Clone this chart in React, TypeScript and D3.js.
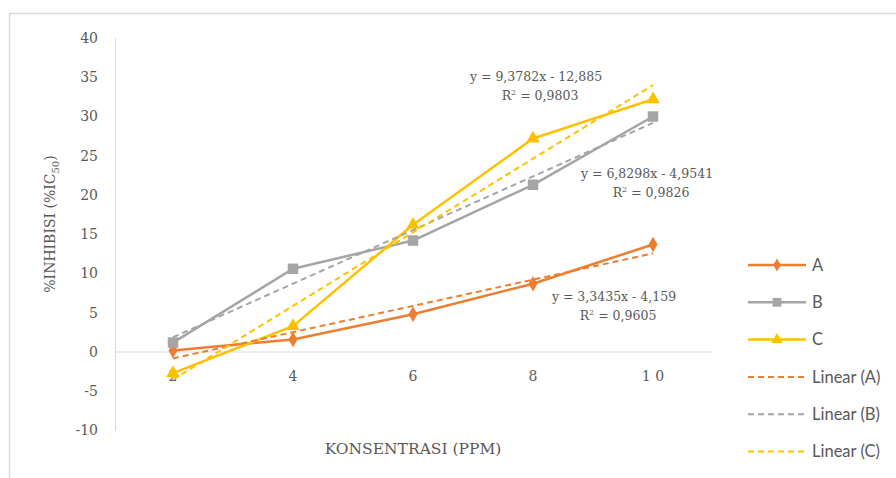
import React from "react";
import * as d3 from "d3";

const categories = ["2", "4", "6", "8", "10"];
const tickLabels = ["2", "4", "6", "8", "1 0"];
const seriesA = [0.2, 1.6, 4.8, 8.7, 13.7];
const seriesB = [1.2, 10.6, 14.2, 21.3, 30.0];
const seriesC = [-2.7, 3.3, 16.2, 27.2, 32.2];
const trendA = { slope: 3.3435, intercept: -4.159, eq: "y = 3,3435x - 4,159", r2: "0,9605" };
const trendB = { slope: 6.8298, intercept: -4.9541, eq: "y = 6,8298x - 4,9541", r2: "0,9826" };
const trendC = { slope: 9.3782, intercept: -12.885, eq: "y = 9,3782x - 12,885", r2: "0,9803" };
const yTicks = [-10, -5, 0, 5, 10, 15, 20, 25, 30, 35, 40];

const W = 896;
const H = 478;
const serif = "'DejaVu Serif', 'Liberation Serif', serif";
const sans = "Lato, 'Open Sans', 'Liberation Sans', sans-serif";

export default function App() {
  const x = d3.scaleBand<string>().domain(categories).range([113, 713]);
  const cx = (c: string) => (x(c) as number) + x.bandwidth() / 2;
  const y = d3.scaleLinear().domain([-10, 40]).range([430.5, 38]);
  const line = d3
    .line<number>()
    .x((_, i) => cx(categories[i]))
    .y((v) => y(v));

  const series = [
    { name: "A", data: seriesA, color: "#ED7D31", trend: trendA, marker: "diamond" },
    { name: "B", data: seriesB, color: "#A5A5A5", trend: trendB, marker: "square" },
    { name: "C", data: seriesC, color: "#FFC000", trend: trendC, marker: "triangle" },
  ];

  const sym = (m: string, scale = 1) => {
    const t = m === "diamond" ? d3.symbolDiamond : m === "square" ? d3.symbolSquare : d3.symbolTriangle;
    const size = (m === "diamond" ? 70 : m === "square" ? 110 : 80) * scale;
    return d3.symbol().type(t).size(size)() as string;
  };

  const trendPts = (t: { slope: number; intercept: number }) =>
    categories.map((_, i) => t.slope * (i + 1) + t.intercept);

  const labels = [
    { t: trendC, x: 536, y: 77 },
    { t: trendB, x: 647, y: 174 },
    { t: trendA, x: 614, y: 297 },
  ];

  const legendItems = [
    ...series.map((s) => ({ label: s.name, color: s.color, dashed: false, marker: s.marker })),
    ...series.map((s) => ({ label: `Linear (${s.name})`, color: s.color, dashed: true, marker: "" })),
  ];

  return (
    <svg width={W} height={H} style={{ display: "block", position: "absolute", left: 0, top: 0 }}>
      <rect x={0} y={0} width={W} height={H} fill="#fff" />
      <line x1={9.5} y1={13} x2={9.5} y2={H} stroke="#d9d9d9" strokeWidth={1.5} />
      <line x1={9} y1={13.5} x2={W} y2={13.5} stroke="#d9d9d9" strokeWidth={1.5} />

      {/* axes */}
      <line x1={115.5} y1={38} x2={115.5} y2={431} stroke="#d9d9d9" strokeWidth={1} />
      <line x1={115} y1={y(0)} x2={713} y2={y(0)} stroke="#d9d9d9" strokeWidth={1} />
      {yTicks.map((t) => (
        <text key={t} x={98} y={y(t)} dy="0.35em" textAnchor="end" fontFamily={serif} fontSize={14} fill="#595959">
          {t}
        </text>
      ))}
      {categories.map((c, i) => (
        <text key={c} x={cx(c)} y={376} dy="0.35em" textAnchor="middle" fontFamily={serif} fontSize={14} fill="#595959">
          {tickLabels[i]}
        </text>
      ))}
      <text x={413} y={449} dy="0.35em" textAnchor="middle" fontFamily={serif} fontSize={15.5} fill="#595959">
        KONSENTRASI (PPM)
      </text>
      <text transform="translate(50,224) rotate(-90)" textAnchor="middle" dy="0.35em" fontFamily={serif} fontSize={14} fill="#595959">
        %INHIBISI (%IC<tspan fontSize={10} dy="4">50</tspan><tspan dy="-4">)</tspan>
      </text>

      {/* series lines */}
      {series.map((s) => (
        <g key={s.name}>
          <path d={line(s.data) as string} fill="none" stroke={s.color} strokeWidth={2.5} strokeLinejoin="round" />
          {s.data.map((v, i) => (
            <path key={i} d={sym(s.marker)} transform={`translate(${cx(categories[i])},${y(v)})`} fill={s.color} />
          ))}
        </g>
      ))}
      {/* trendlines */}
      {series.map((s) => (
        <path
          key={"t" + s.name}
          d={line(trendPts(s.trend)) as string}
          fill="none"
          stroke={s.color}
          strokeWidth={2}
          strokeDasharray="6,4"
        />
      ))}

      {/* equations */}
      {labels.map((l, i) => (
        <g key={i} fontFamily={serif} fontSize={12.5} fill="#595959" textAnchor="middle">
          <text x={l.x} y={l.y} dy="0.35em">{l.t.eq}</text>
          <text x={l.x + 4} y={l.y + 19} dy="0.35em">
            R<tspan fontSize={8} dy="-5">2</tspan><tspan dy="5"> = {l.t.r2}</tspan>
          </text>
        </g>
      ))}

      {/* legend */}
      {legendItems.map((it, i) => {
        const ly = 265 + i * 37.3;
        return (
          <g key={it.label}>
            <line
              x1={748}
              x2={806}
              y1={ly}
              y2={ly}
              stroke={it.color}
              strokeWidth={it.dashed ? 2 : 2.5}
              strokeDasharray={it.dashed ? "6,4" : undefined}
            />
            {it.marker && <path d={sym(it.marker, 0.7)} transform={`translate(777,${ly})`} fill={it.color} />}
            <text x={812} y={ly} dy="0.35em" fontFamily={sans} fontSize={16.5} fill="#595959">
              {it.label}
            </text>
          </g>
        );
      })}
    </svg>
  );
}
